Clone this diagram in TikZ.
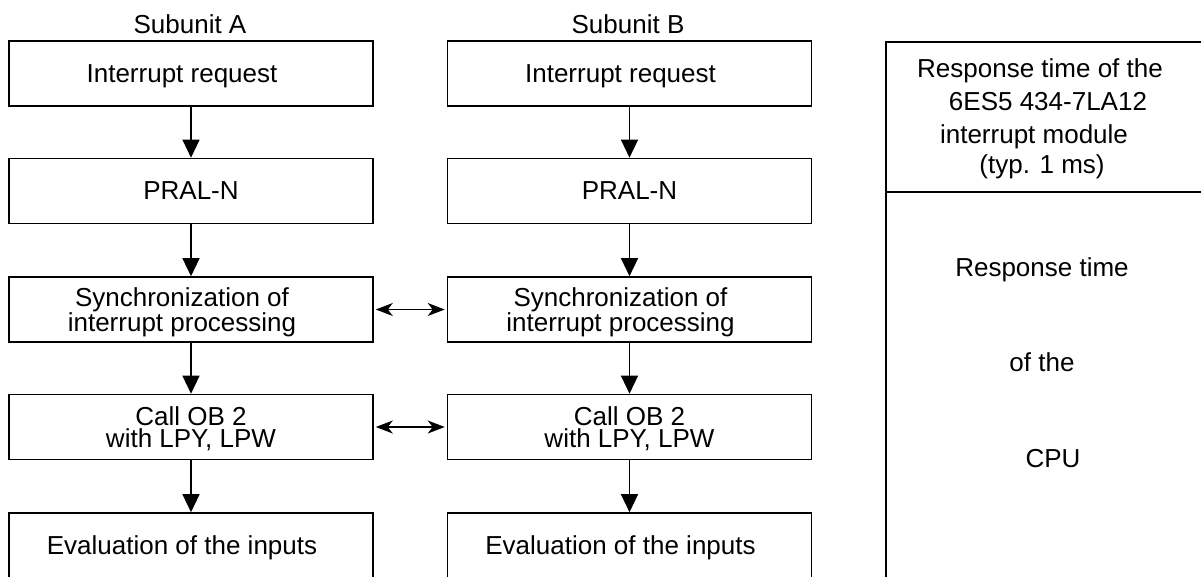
\documentclass[tikz,border=0pt]{standalone}
\usepackage{fontspec}
\setmainfont{Liberation Sans}
\usetikzlibrary{arrows.meta}
\begin{document}
\begin{tikzpicture}[x=1pt,y=-1pt,
  box/.style={draw,line width=1.6pt,minimum width=364pt,minimum height=65pt,inner sep=0pt,text depth=0pt,align=center,font=\fontsize{26}{22}\selectfont},
  flow/.style={line width=1.3pt,-{Triangle[length=18pt,width=17pt]}},
  link/.style={line width=1.3pt,{Stealth[length=17pt,width=13pt,inset=5pt]}-{Stealth[length=17pt,width=13pt,inset=5pt]},shorten <=2pt,shorten >=2pt},
  lbl/.style={font=\fontsize{26}{30}\selectfont,inner sep=0pt,anchor=base},
  rule/.style={line width=1.6pt}]
\useasboundingbox (0,0) rectangle (1201,576);
% column headings
\node[lbl] (ha) at (190,33) {Subunit A};
\node[lbl] (hb) at (628,33) {Subunit B};
% subunit A
\node[box] (a1) at (191,73.5) {Interrupt request\hspace*{18pt}};
\node[box] (a2) at (191,191) {PRAL-N};
\node[box] (a3) at (191,309.5) {Synchronization of\hspace*{18pt}\\interrupt processing\hspace*{18pt}};
\node[box] (a4) at (191,427) {Call OB 2\\with LPY, LPW};
\node[box] (a5) at (191,545.5) {Evaluation of the inputs\hspace*{18pt}};
% subunit B
\node[box] (b1) at (629.5,73.5) {Interrupt request\hspace*{18pt}};
\node[box] (b2) at (629.5,191) {PRAL-N};
\node[box] (b3) at (629.5,309.5) {Synchronization of\hspace*{18pt}\\interrupt processing\hspace*{18pt}};
\node[box] (b4) at (629.5,427) {Call OB 2\\with LPY, LPW};
\node[box] (b5) at (629.5,545.5) {Evaluation of the inputs\hspace*{18pt}};
% flow arrows
\foreach \c in {a,b}{
  \draw[flow] (\c1) -- (\c2);
  \draw[flow] (\c2) -- (\c3);
  \draw[flow] (\c3) -- (\c4);
  \draw[flow] (\c4) -- (\c5);
}
\draw[link] (a3) -- (b3);
\draw[link] (a4) -- (b4);
% right-hand timing column
\coordinate (rt) at (886,42);
\coordinate (rb) at (886,600);
\coordinate (re) at (1220,42);
\coordinate (ml) at (886,192);
\coordinate (mr) at (1220,192);
\draw[rule] (rb) -- (rt) -- (re);
\draw[rule] (ml) -- (mr);
\node[lbl] (r1) at (1040,77) {Response time of the};
\node[lbl] (r2) at (1048,110) {6ES5 434-7LA12};
\node[lbl] (r3) at (1034,143) {interrupt module};
\node[lbl] (r4) at (1042,173) {(typ. 1 ms)};
\node[lbl] (c1) at (1042,276) {Response time};
\node[lbl] (c2) at (1042,371) {of the};
\node[lbl] (c3) at (1053,467) {CPU};
\end{tikzpicture}
\end{document}
